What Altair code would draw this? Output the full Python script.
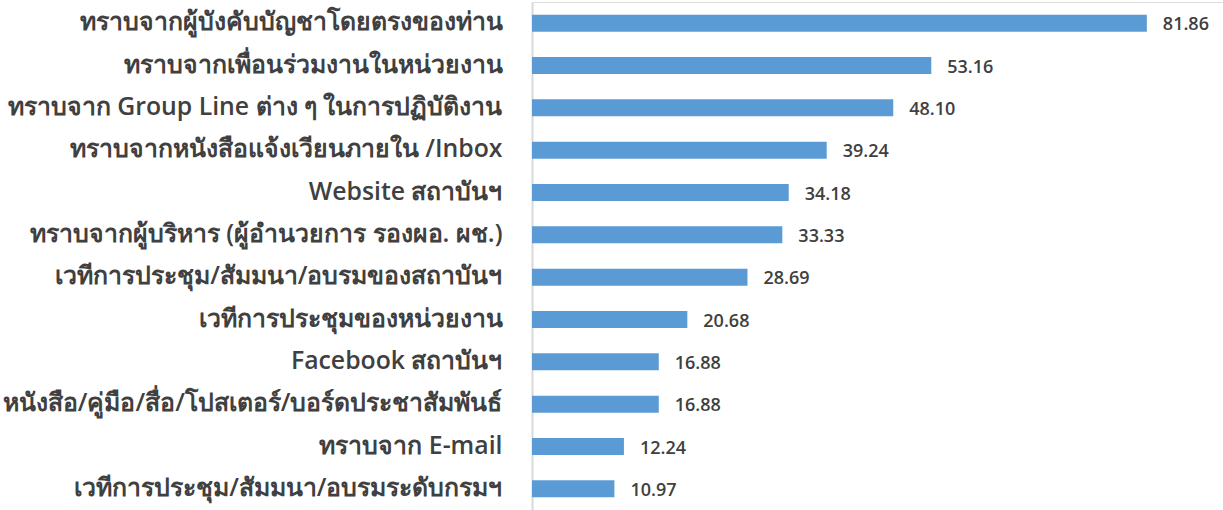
import altair as alt
import pandas as pd

categories = [
    "ทราบจากผู้บังคับบัญชาโดยตรงของท่าน",
    "ทราบจากเพื่อนร่วมงานในหน่วยงาน",
    "ทราบจาก Group Line ต่าง ๆ ในการปฏิบัติงาน",
    "ทราบจากหนังสือแจ้งเวียนภายใน /Inbox",
    "Website สถาบันฯ",
    "ทราบจากผู้บริหาร (ผู้อำนวยการ รองผอ. ผช.)",
    "เวทีการประชุม/สัมมนา/อบรมของสถาบันฯ",
    "เวทีการประชุมของหน่วยงาน",
    "Facebook สถาบันฯ",
    "หนังสือ/คู่มือ/สื่อ/โปสเตอร์/บอร์ดประชาสัมพันธ์",
    "ทราบจาก E-mail",
    "เวทีการประชุม/สัมมนา/อบรมระดับกรมฯ",
]
values = [81.86, 53.16, 48.10, 39.24, 34.18, 33.33, 28.69, 20.68, 16.88, 16.88, 12.24, 10.97]

df = pd.DataFrame({"cat": categories, "val": values})
df["lbl"] = [f"{v:.2f}" for v in values]

FONT = "'Open Sans', 'Noto Sans', sans-serif"

y = alt.Y("cat:N", sort=categories, title=None,
          scale=alt.Scale(paddingInner=0.6, paddingOuter=0.3),
          axis=alt.Axis(labelFont=FONT, labelFontSize=24.8, labelFontWeight=600,
                        labelColor="#404040", labelPadding=30, ticks=False,
                        domainColor="#d9d9d9", domainWidth=2, labelLimit=600))
x = alt.X("val:Q", title=None, scale=alt.Scale(domain=[0, 92], nice=False),
          axis=None)

bars = alt.Chart(df).mark_bar(color="#5b9bd5").encode(x=x, y=y)
text = alt.Chart(df).mark_text(align="left", baseline="middle", dx=16, dy=2,
                               font=FONT, fontSize=18, fontWeight=600,
                               color="#404040").encode(x=x, y=y, text="lbl:N")

chart = (bars + text).properties(
    width=691, height=508,
    autosize=alt.AutoSizeParams(type="none"),
    padding={"left": 532, "top": 2, "right": 0, "bottom": 0},
).configure_view(stroke=None).configure(background="white")

chart.save("out.html", embed_options={"renderer": "svg", "actions": False})
